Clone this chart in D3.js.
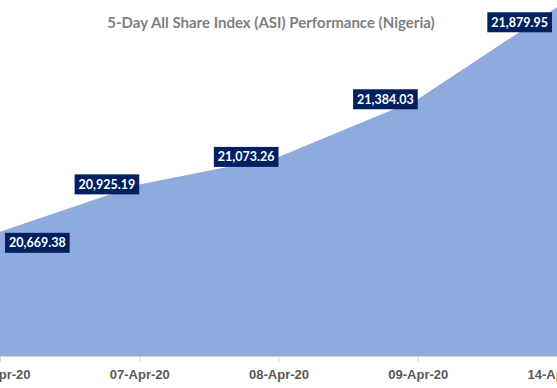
<!DOCTYPE html>
<html>
<head>
<meta charset="utf-8">
<script src="https://cdn.jsdelivr.net/npm/d3@7"></script>
<style>
  body { margin: 0; background: #fff; }
  svg { display: block; font-family: Lato, "Open Sans", sans-serif; }
</style>
</head>
<body>
<script>
var days = ["06-Apr-20", "07-Apr-20", "08-Apr-20", "09-Apr-20", "14-Apr-20"];
var asi = [20669.38, 20925.19, 21073.26, 21384.03, 21879.95];
var yDomain = [20000, 22000];

var W = 557, H = 388;
var svg = d3.select("body").append("svg")
    .attr("width", W)
    .attr("height", H);

var base = 356;
var x = d3.scalePoint().domain(days).range([0, W]);
var y = d3.scaleLinear().domain(yDomain).range([base, base - 2000 * 0.1855]);

var data = days.map(function (d, i) { return {day: d, value: asi[i]}; });

var area = d3.area()
    .x(function (d) { return x(d.day); })
    .y0(y(yDomain[0]))
    .y1(function (d) { return y(d.value); });

svg.append("path")
    .datum(data)
    .attr("d", area)
    .attr("fill", "#8faadc");

// x axis
var xAxis = d3.axisBottom(x).tickSize(6).tickPadding(8);
var gx = svg.append("g")
    .attr("transform", "translate(0," + base + ")")
    .call(xAxis);
gx.select(".domain").attr("stroke", "#d9d9d9");
gx.selectAll(".tick line").attr("stroke", "#d9d9d9");
gx.selectAll(".tick text")
    .attr("fill", "#595959")
    .style("font-size", "13px")
    .style("font-weight", "bold");

// title
svg.append("text")
    .attr("x", 271)
    .attr("y", 28)
    .attr("text-anchor", "middle")
    .attr("fill", "#7f7f7f")
    .style("font-size", "15px")
    .style("font-weight", "bold")
    .text("5-Day All Share Index (ASI) Performance (Nigeria)");

// data labels
var fmt = d3.format(",.2f");
var lab = svg.append("g").selectAll("g")
    .data(data)
    .enter().append("g");

lab.each(function (d) {
    var g = d3.select(this);
    var t = g.append("text")
        .attr("fill", "#fff")
        .style("font-size", "12.5px")
        .style("font-weight", "bold")
        .text(fmt(d.value));
    var bb = t.node().getBBox();
    var bw = bb.width + 8, bh = 20;
    var px = x(d.day), py = y(d.value);
    var left = px - bw, top = py - bh / 2;
    if (left < 5) { left = 5; top = py + 1; }
    if (left + bw > W - 5) { left = W - 5 - bw; top = py + 5; }
    g.insert("rect", "text")
        .attr("x", left)
        .attr("y", top)
        .attr("width", bw)
        .attr("height", bh)
        .attr("fill", "#002060");
    t.attr("x", left + bw / 2)
        .attr("y", top + 14.5)
        .attr("text-anchor", "middle");
});
</script>
</body>
</html>
